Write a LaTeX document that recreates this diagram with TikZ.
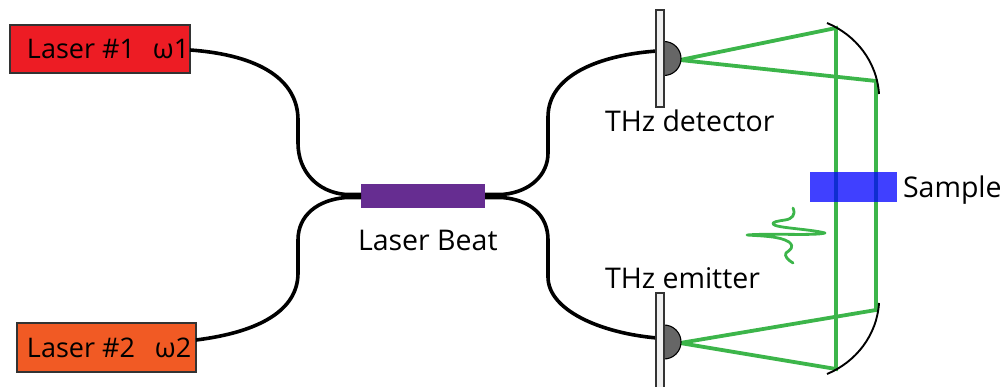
\documentclass[tikz,border=0pt]{standalone}
\usepackage{fontspec}
\setmainfont{Open Sans}
\definecolor{beamgreen}{HTML}{3CB54A}
\definecolor{laserred}{HTML}{ED1C24}
\definecolor{laserorange}{HTML}{F15A24}
\definecolor{beatpurple}{HTML}{662D91}
\definecolor{edgegrey}{HTML}{333333}
\tikzset{
  boxshape/.style={draw=#1,rectangle,inner sep=0pt,outer sep=0pt},
  laserbox/.style={boxshape=edgegrey,line width=1.1pt},
  label/.style={anchor=base west,inner sep=0pt,outer sep=0pt,font=\fontsize{28.5}{34}\selectfont,text=black},
  laserlabel/.style={label,font=\fontsize{27}{32}\selectfont},
  fiber/.style={line width=3.6pt,black},
  beam/.style={line width=3.8pt,beamgreen,line cap=round},
  mirror/.style={line width=1.9pt,black},
  plate/.style={draw=edgegrey,fill=black!6,line width=1.1pt,rectangle,inner sep=0pt,outer sep=0pt},
  lens/.style={draw=black,fill=black!60,line width=1.1pt}
}
\begin{document}
\begin{tikzpicture}[x=1pt,y=-1pt]
\useasboundingbox (0,0) rectangle (1006,387);

\node[laserbox,fill=laserred,minimum width=180pt,minimum height=48pt] (l1) at (100,49) {};
\node[laserbox,fill=laserorange,minimum width=179pt,minimum height=49pt] (l2) at (106.5,347.5) {};
\node[draw=none,fill=beatpurple,rectangle,inner sep=0pt,outer sep=0pt,minimum width=124pt,minimum height=24pt] (beat) at (423,196) {};

\coordinate (fd) at (657,51);
\coordinate (fe) at (657,338);
\coordinate (l1out) at (190,50);
\coordinate (l2out) at (196,340);
\coordinate (jlu) at ([yshift=1.6pt]beat.west);
\coordinate (jll) at ([yshift=-1.6pt]beat.west);
\coordinate (jru) at ([yshift=1.6pt]beat.east);
\coordinate (jrl) at ([yshift=-1.6pt]beat.east);

\draw[fiber] (l1out) .. controls (260,55) and (298,80) .. (298,120) -- (298,143)
   .. controls (298,172) and (318,192) .. (345,194.4) -- (jlu);
\draw[fiber] (l2out) .. controls (260,332) and (298,310) .. (298,273) -- (298,240)
   .. controls (298,215) and (318,200) .. (345,197.6) -- (jll);
\draw[fiber] (jru) -- (503,194.4) .. controls (530,192) and (548,175) .. (548,153) -- (548,117)
   .. controls (548,75) and (600,55) .. (fd);
\draw[fiber] (jrl) -- (503,197.6) .. controls (530,200) and (548,215) .. (548,240) -- (548,277)
   .. controls (548,310) and (600,333) .. (fe);

% beams
\coordinate (da) at (680,60);
\coordinate (ea) at (680,343);
\coordinate (mt1) at (836,28);
\coordinate (mt2) at (876,81);
\coordinate (mb1) at (836,369);
\coordinate (mb2) at (876,310);
\draw[beam] (da) -- (mt1) -- (mb1) -- (ea) -- (mb2) -- (mt2) -- cycle;

% detector and emitter
\draw[lens] (664,41.5) arc[start angle=-90,end angle=90,radius=17] -- cycle;
\draw[lens] (664,325) arc[start angle=-90,end angle=90,radius=17] -- cycle;
\node[plate,minimum width=8pt,minimum height=97pt] (pd) at (660,58.5) {};
\node[plate,minimum width=8pt,minimum height=100pt] (pe) at (660,343) {};

% mirrors
\draw[mirror] (827,23) .. controls (856,35) and (877,62) .. (879,94);
\draw[mirror] (879,303) .. controls (877,335) and (856,362) .. (827,374);

% sample
\node[rectangle,fill=blue,fill opacity=0.75,inner sep=0pt,outer sep=0pt,minimum width=87pt,minimum height=30pt] (sample) at (853.5,187) {};

% pulse
\draw[line width=2.8pt,beamgreen,line cap=round,line join=round]
  (793,208) .. controls (796,215) and (792,219) .. (785,220)
  .. controls (778,221) and (772,222) .. (773,224)
  .. controls (775,228) and (810,229) .. (825,233)
  .. controls (815,236) and (770,233) .. (747,235)
  .. controls (760,236) and (780,236) .. (789,242)
  .. controls (795,247) and (790,250) .. (786,253)
  .. controls (784,256) and (788,260) .. (793,263);

% labels
\node[laserlabel] (t1) at (27,59) {Laser \#1\hspace{18pt}ω1};
\node[laserlabel] (t2) at (27,357) {Laser \#2\hspace{20pt}ω2};
\node[label] (t3) at (358,251) {Laser Beat};
\node[label] (t4) at (605,132) {THz detector};
\node[label] (t5) at (605,288) {THz emitter};
\node[label] (t6) at (903,198) {Sample};
\end{tikzpicture}
\end{document}
